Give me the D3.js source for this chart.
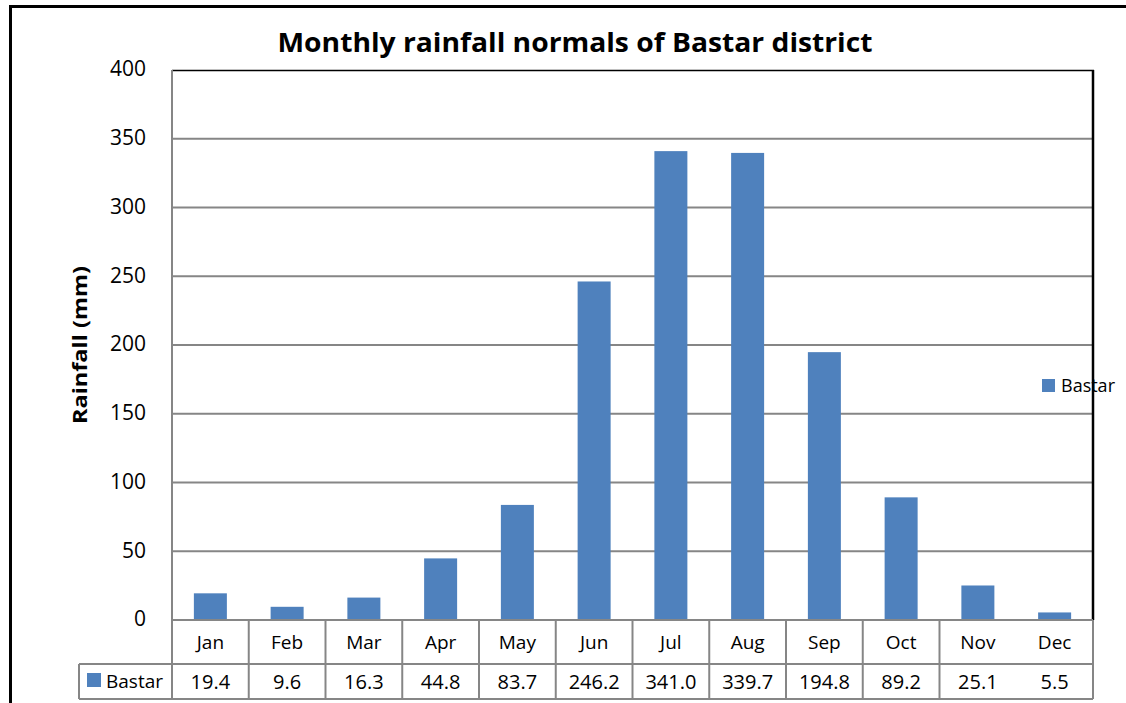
<!DOCTYPE html>
<html><head><meta charset="utf-8">
<script src="https://cdn.jsdelivr.net/npm/d3@7"></script>
<style>body{margin:0;background:#fff}svg{display:block}</style>
</head><body>
<svg id="c" width="1126" height="703"></svg>
<script>
const months = ["Jan","Feb","Mar","Apr","May","Jun","Jul","Aug","Sep","Oct","Nov","Dec"];
const rainfall = [19.4,9.6,16.3,44.8,83.7,246.2,341.0,339.7,194.8,89.2,25.1,5.5];
const valueLabels = ["19.4","9.6","16.3","44.8","83.7","246.2","341.0","339.7","194.8","89.2","25.1","5.5"];
const yTicks = [0,50,100,150,200,250,300,350,400];
const seriesName = "Bastar";
const title = "Monthly rainfall normals of Bastar district";
const yTitle = "Rainfall (mm)";

const svg = d3.select("#c");
const W=1126,H=703;
const L=172,R=1093,T=70,B=620;
const row1=664,row2=699,legL=79;
const blue="#4f81bd", grid="#868686";
const font="'Open Sans', 'Liberation Sans', Arial, sans-serif";

svg.append("rect").attr("width",W).attr("height",H).attr("fill","#fff");
// outer border
svg.append("rect").attr("x",10.5).attr("y",6.5).attr("width",W+20).attr("height",H+20)
  .attr("fill","none").attr("stroke","#000").attr("stroke-width",3);

const x = d3.scaleBand().domain(months).range([L,R]).paddingInner(0.57).paddingOuter(0.285);
const xc = d3.scaleBand().domain(months).range([L,R]);
const y = d3.scaleLinear().domain([0,400]).range([B,T]);

// title
svg.append("text").attr("x",575).attr("y",52).attr("text-anchor","middle")
  .attr("font-family","'Open Sans', sans-serif").attr("font-weight","bold").attr("font-size",27)
  .attr("textLength",595).attr("lengthAdjust","spacingAndGlyphs").text(title);

// gridlines
svg.append("g").selectAll("line").data(yTicks.filter(d=>d>0&&d<400)).join("line")
  .attr("x1",L).attr("x2",R).attr("y1",d=>y(d)).attr("y2",d=>y(d))
  .attr("stroke",grid).attr("stroke-width",2);

// y axis via d3
const yAxis = svg.append("g").attr("transform",`translate(${L},0)`)
  .call(d3.axisLeft(y).tickValues(yTicks).tickSize(0).tickPadding(26).tickFormat(d3.format("d")));
yAxis.select(".domain").remove();
yAxis.selectAll("text").attr("font-family",font).attr("font-size",21).attr("fill","#000").attr("dy","0.28em");

// bars
svg.append("g").selectAll("rect").data(rainfall).join("rect")
  .attr("x",(d,i)=>x(months[i])).attr("width",x.bandwidth())
  .attr("y",d=>y(d)).attr("height",d=>y(0)-y(d)).attr("fill",blue);

// plot frame top & right
svg.append("line").attr("x1",L).attr("x2",R+1).attr("y1",T+0.5).attr("y2",T+0.5).attr("stroke","#000").attr("stroke-width",1.5);
svg.append("line").attr("x1",R).attr("x2",R).attr("y1",T).attr("y2",B).attr("stroke","#000").attr("stroke-width",2.5);

// y title
svg.append("text").attr("transform",`translate(87,${(T+B)/2}) rotate(-90)`).attr("text-anchor","middle")
  .attr("font-family","'Open Sans', sans-serif").attr("font-weight","bold").attr("font-size",19)
  .attr("textLength",158).attr("lengthAdjust","spacingAndGlyphs").text(yTitle);

// table
const tg = svg.append("g").attr("stroke",grid).attr("stroke-width",2).attr("fill","none");
tg.append("line").attr("x1",L).attr("x2",R).attr("y1",B).attr("y2",B);
tg.append("line").attr("x1",legL).attr("x2",R).attr("y1",row1).attr("y2",row1);
tg.append("line").attr("x1",legL).attr("x2",R).attr("y1",row2).attr("y2",row2);
tg.append("line").attr("x1",legL).attr("x2",legL).attr("y1",row1).attr("y2",row2);
tg.append("line").attr("x1",L).attr("x2",L).attr("y1",T).attr("y2",row2);
tg.append("line").attr("x1",R).attr("x2",R).attr("y1",B).attr("y2",row2);
tg.selectAll("line.div").data(months.slice(1,11)).join("line").attr("class","div")
  .attr("x1",d=>xc(d)).attr("x2",d=>xc(d)).attr("y1",B).attr("y2",row2);

svg.append("g").selectAll("text").data(months).join("text")
  .attr("x",d=>xc(d)+xc.bandwidth()/2).attr("y",649).attr("text-anchor","middle")
  .attr("font-family",font).attr("font-size",19).text(d=>d);
svg.append("g").selectAll("text").data(valueLabels).join("text")
  .attr("x",(d,i)=>xc(months[i])+xc.bandwidth()/2).attr("y",689).attr("text-anchor","middle")
  .attr("font-family",font).attr("font-size",20).text(d=>d);
svg.append("rect").attr("x",87).attr("y",673).attr("width",14).attr("height",14).attr("fill",blue);
svg.append("text").attr("x",106).attr("y",688).attr("font-family",font).attr("font-size",19).text(seriesName);

// legend
svg.append("rect").attr("x",1042).attr("y",379).attr("width",13).attr("height",13).attr("fill",blue);
svg.append("text").attr("x",1061).attr("y",392).attr("font-family",font).attr("font-size",18).text(seriesName);
</script>
</body></html>
